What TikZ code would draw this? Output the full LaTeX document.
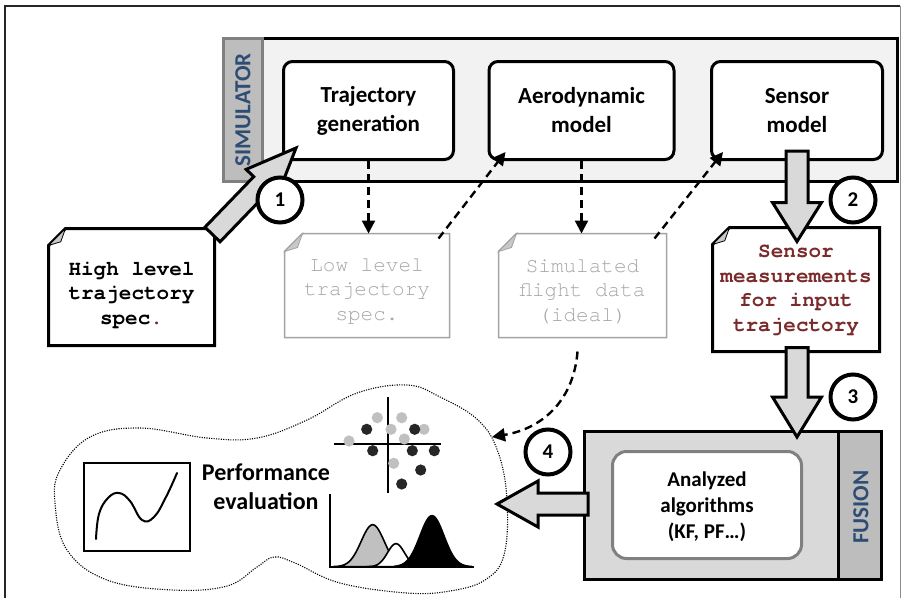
\documentclass[tikz,border=0pt]{standalone}
\usepackage{fontspec}
\setmainfont{Carlito}
\newfontfamily\notefont{TeX Gyre Cursor}
\usetikzlibrary{calc,arrows.meta}

\definecolor{simfill}{HTML}{F2F2F2}
\definecolor{stripfill}{HTML}{BDBDBD}
\definecolor{stripline}{HTML}{808080}
\definecolor{fusfill}{HTML}{D9D9D9}
\definecolor{arrowfill}{HTML}{D9D9D9}
\definecolor{labelblue}{HTML}{2E4D74}
\definecolor{notered}{HTML}{7A2A2A}
\definecolor{ghost}{HTML}{A6A6A6}
\definecolor{ghostline}{HTML}{A3A3A3}
\definecolor{foldgray}{HTML}{C8C8C8}
\definecolor{dotdark}{HTML}{262626}
\definecolor{dotlight}{HTML}{C0C0C0}

% folded-corner note outline drawn around a named node
\newcommand\drawnote[3]{%
  \filldraw[fill=white,#1] ($(#2.north west)+(0,#3)$) -- ($(#2.north west)+(#3,0)$)
    -- (#2.north east) -- (#2.south east) -- (#2.south west) -- cycle;
  \filldraw[#1, fill=foldgray, line width=0.8pt] ($(#2.north west)+(0,#3)$)
    -- ($(#2.north west)+(#3,0)$) -- ($(#2.north west)+(0.72*#3,0.78*#3)$) -- cycle;}

% thick block arrow: start, tip, shaft half width, head half width, head length
\newcommand\blockarrow[5]{%
  \coordinate (ba-m) at ($(#2)!#5!(#1)$);
  \filldraw[blockarrow] ($(#1)!#3!90:(#2)$) -- ($(ba-m)!#3!90:(#2)$)
    -- ($(ba-m)!#4!90:(#2)$) -- (#2) -- ($(ba-m)!#4!-90:(#2)$)
    -- ($(ba-m)!#3!-90:(#2)$) -- ($(#1)!#3!-90:(#2)$) -- cycle;}

\begin{document}
\begin{tikzpicture}[x=1pt,y=-1pt,
  boxlabel/.style={font=\bfseries\fontsize{23}{29}\selectfont, align=center},
  tbox/.style={draw, line width=3pt, rounded corners=9pt, fill=white,
    minimum height=98pt, boxlabel},
  notebox/.style={inner sep=0pt, outer sep=0pt},
  boldnote/.style={font=\notefont\bfseries\fontsize{21}{24.5}\selectfont, align=center},
  ghostnote/.style={font=\notefont\fontsize{21}{24.5}\selectfont, align=center, text=ghost},
  sidelabel/.style={rotate=90, text=labelblue, font=\bfseries\fontsize{23}{23}\selectfont},
  numcircle/.style={circle, draw, line width=4pt, fill=white, minimum size=45pt,
    inner sep=0pt, font=\bfseries\fontsize{21}{21}\selectfont},
  blockarrow/.style={fill=arrowfill, draw=black, line width=3pt},
  dasharrow/.style={line width=2.4pt, dash pattern=on 8pt off 5pt,
    -{Triangle[length=13pt,width=13pt]}},
]
\useasboundingbox (0,0) rectangle (902,597);

% outer frame
\draw[line width=1.8pt, black!85] (5,610) -- (5,6) -- (900,6);
\draw[line width=1pt, black!45] (900,6) -- (900,610);

% simulator container
\draw[line width=3pt, fill=simfill] (224,38.5) rectangle (897.5,181.5);
\draw[line width=3pt, draw=stripline, fill=stripfill] (223.5,38.5) rectangle (262,181.5);
\node[sidelabel] (simlabel) at (243,110) {SIMULATOR};

\node[tbox, minimum width=170pt] (traj) at (368.5,110.5) {Trajectory\\generation};
\node[tbox, minimum width=185pt] (aero) at (581.5,110.5) {Aerodynamic\\model};
\node[tbox, minimum width=171pt] (sensor) at (797,110.5) {Sensor\\model};

% notes
\node[notebox, minimum width=166pt, minimum height=117pt] (hls) at (131.5,287) {};
\drawnote{line width=3pt}{hls}{17}
\node[boldnote] (hlstext) at (131.5,295) {High level\\trajectory\\spec\textcolor{notered}{.}};

\node[notebox, minimum width=165pt, minimum height=104pt] (lowdoc) at (367,285.5) {};
\drawnote{line width=1.5pt, draw=ghostline}{lowdoc}{18}
\node[ghostnote] (lowtext) at (367,291.5) {Low level\\trajectory\\spec.};

\node[notebox, minimum width=168pt, minimum height=104pt] (simdoc) at (582.5,285.5) {};
\drawnote{line width=1.5pt, draw=ghostline}{simdoc}{18}
\node[ghostnote] (simtext) at (582.5,291.5) {Simulated\\flight data\\(ideal)};

\node[notebox, minimum width=167pt, minimum height=124pt] (sensdoc) at (796,289.5) {};
\drawnote{line width=3pt}{sensdoc}{17}
\node[boldnote, text=notered] (senstext) at (796,290.5) {Sensor\\measurements\\for input\\trajectory};

% fusion container
\node[draw, line width=3pt, fill=fusfill, minimum width=297pt, minimum height=148pt,
  inner sep=0pt] (fusion) at (733,505.5) {};
\draw[line width=3pt, fill=stripfill] (838,431.5) rectangle (881.5,579.5);
\node[sidelabel] (fuslabel) at (861,507) {FUSION};
\node[draw=stripline, line width=3pt, rounded corners=14pt, fill=white,
  minimum width=189pt, minimum height=107pt, font=\bfseries\fontsize{21}{26}\selectfont,
  align=center] (algo) at (707,505) {};
\node[font=\bfseries\fontsize{21}{26}\selectfont, align=center] (algotext) at (707,507)
  {Analyzed\\algorithms\\(KF, PF…)};

% dashed data flow inside the simulator
\draw[dasharrow] (traj.south) -- (traj.south |- lowdoc.north);
\draw[dasharrow] (aero.south) -- (aero.south |- simdoc.north);
\coordinate (lowout) at ($(lowdoc.north east)+(-11,5)$);
\coordinate (aeroin) at ($(aero.south west)+(18,-9)$);
\draw[dasharrow] (lowout) -- (aeroin);
\coordinate (simout) at ($(simdoc.north east)+(-12,5)$);
\coordinate (sensin) at ($(sensor.south west)+(13,-9)$);
\draw[dasharrow] (simout) -- (sensin);

% performance evaluation cloud
\draw[line width=1.1pt, dash pattern=on 1.1pt off 1.3pt]
  plot[smooth cycle, tension=0.65] coordinates {
  (140,428) (90,437) (60,470) (55,503) (67,550) (107,580) (173,590) (227,586)
  (257,567) (274,557) (295,563) (340,583) (407,593) (450,591) (485,580) (504,555)
  (507,500) (498,452) (478,420) (440,397) (407,385) (357,393) (307,420) (257,438)
  (207,438)};
\node[font=\bfseries\fontsize{24}{29}\selectfont, align=center] (perf) at (266,487)
  {Performance\\evaluation};

% curve thumbnail
\node[draw, line width=2pt, minimum width=106pt, minimum height=88pt, inner sep=0pt]
  (curvebox) at (137,507) {};
\draw[line width=2pt, line cap=round] plot[smooth, tension=0.7] coordinates
  {(96,539) (99,514) (108,498) (119,493) (130,501) (142,520) (154,517) (166,497) (177,473)};

% scatter thumbnail
\draw[line width=1.8pt] (388,397) -- (388,493);
\draw[line width=1.8pt] (334,444) -- (441,444);
\foreach \px/\py in {377.3/417.7, 401.7/417.7, 391/429.3, 424/429.3, 404.3/439,
  349/441, 393.7/463.3}
  \fill[dotlight] (\px,\py) circle (5.6pt);
\foreach \px/\py in {366.7/429.3, 414.7/429.3, 372.7/450.7, 412.3/450.7,
  434.3/450.7, 420.7/470, 401.7/484}
  \fill[dotdark] (\px,\py) circle (5.6pt);

% distribution thumbnail
\filldraw[fill=dotlight, line width=1.6pt] plot[domain=333:415, samples=60]
  (\x,{566.7-42*exp(-((\x-372.7)/11.5)*((\x-372.7)/11.5)/2)}) -- cycle;
\filldraw[fill=white, line width=1.6pt] plot[domain=366:428, samples=60]
  (\x,{566.7-23*exp(-((\x-396)/8.5)*((\x-396)/8.5)/2)}) -- cycle;
\filldraw[fill=black, line width=1.6pt] plot[domain=394:472, samples=60]
  (\x,{566.7-51*exp(-((\x-432)/12)*((\x-432)/12)/2)}) -- cycle;
\draw[line width=1.8pt] (330,494) -- (330,567) -- (474,567);

% curved dashed link to the evaluation
\coordinate (simbottom) at ($(simdoc.south)+(-5,14)$);
\coordinate (evalin) at (492,437);
\draw[dasharrow] (simbottom) .. controls (574,398) and (545,428) .. (evalin);

% main block arrows
\coordinate (a1s) at ($(hls.north east)+(-2,6)$);
\coordinate (a1t) at ($(traj.south west)+(14,-13)$);
\blockarrow{a1s}{a1t}{10.5pt}{21pt}{50pt}
\coordinate (a2s) at (797,151);
\coordinate (a2t) at ($(sensdoc.north)+(1,14)$);
\blockarrow{a2s}{a2t}{11pt}{24.5pt}{39pt}
\coordinate (a3s) at ($(sensdoc.south)+(1,-4)$);
\coordinate (a3t) at ($(a3s |- fusion.north)+(0,7)$);
\blockarrow{a3s}{a3t}{11pt}{24.5pt}{40pt}
\coordinate (a4s) at ($(fusion.west)+(5,-1.5)$);
\coordinate (evalout) at (497,504);
\blockarrow{a4s}{evalout}{11pt}{23pt}{41pt}

% step numbers
\node[numcircle] (n1) at (280,200) {1};
\node[numcircle] (n2) at (853,200) {2};
\node[numcircle] (n3) at (853,397) {3};
\node[numcircle] (n4) at (548,452) {4};
\end{tikzpicture}
\end{document}
